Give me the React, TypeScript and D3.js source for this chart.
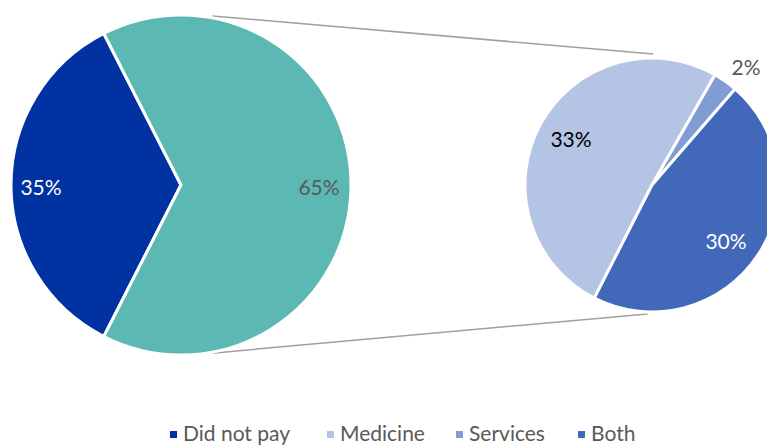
import React from "react";
import * as d3 from "d3";

const mainCategories = ["Did not pay", "Paid"];
const mainValues = [35, 65];
const mainColors = ["#0033A1", "#5CB8B2"];
const mainLabelColors = ["#FFFFFF", "#595959"];

const subCategories = ["Medicine", "Services", "Both"];
const subValues = [33, 2, 30];
const subColors = ["#B4C4E4", "#809CD3", "#4168B9"];
const subLabelColors = ["#000000", "#595959", "#FFFFFF"];

const legendCategories = ["Did not pay", "Medicine", "Services", "Both"];
const legendColors = ["#0033A1", "#B4C4E4", "#809CD3", "#4168B9"];

const W = 767;
const H = 445;
const deg = Math.PI / 180;
const FONT = "Lato, 'Open Sans', sans-serif";

export default function App() {
  const lc = { x: 181, y: 185, r: 170 };
  const rc = { x: 652, y: 185, r: 127 };

  const leftPie = d3.pie<number>().sort(null).startAngle(207 * deg).endAngle(567 * deg)(mainValues);
  const rightPie = d3.pie<number>().sort(null).startAngle(-153 * deg).endAngle(207 * deg)(subValues);

  const arcL = d3.arc<d3.PieArcDatum<number>>().innerRadius(0).outerRadius(lc.r);
  const arcR = d3.arc<d3.PieArcDatum<number>>().innerRadius(0).outerRadius(rc.r);

  const pt = (c: { x: number; y: number }, r: number, a: number) => [
    c.x + r * Math.sin(a * deg),
    c.y - r * Math.cos(a * deg),
  ];

  const mainLabelPos = [
    [41, 186],
    [319, 186],
  ];
  const subLabelPos = [
    [571, 138],
    [746, 66],
    [726, 240],
  ];

  const t1 = pt(lc, lc.r + 2, 10.5);
  const t2 = pt(rc, rc.r + 4, 0.5);
  const b1 = pt(lc, lc.r + 1, 169.5);
  const b2 = pt(rc, rc.r + 2, 182);

  const legendX = [170, 327, 456, 578];

  return (
    <svg width={W} height={H} style={{ position: "absolute", left: 0, top: 0 }}>
      <rect width={W} height={H} fill="#fff" />
      <line x1={t1[0]} y1={t1[1]} x2={t2[0]} y2={t2[1]} stroke="#A0A0A0" strokeWidth={1.5} />
      <line x1={b1[0]} y1={b1[1]} x2={b2[0]} y2={b2[1]} stroke="#A0A0A0" strokeWidth={1.5} />
      <g transform={`translate(${lc.x},${lc.y})`}>
        {leftPie.map((d, i) => (
          <path key={i} d={arcL(d) || ""} fill={mainColors[i]} stroke="#fff" strokeWidth={3} strokeLinejoin="round" />
        ))}
      </g>
      <g transform={`translate(${rc.x},${rc.y})`}>
        {rightPie.map((d, i) => (
          <path key={i} d={arcR(d) || ""} fill={subColors[i]} stroke="#fff" strokeWidth={3} strokeLinejoin="round" />
        ))}
      </g>
      {mainValues.map((v, i) => (
        <text key={i} x={mainLabelPos[i][0]} y={mainLabelPos[i][1]} textAnchor="middle" dominantBaseline="central"
          fontFamily={FONT} fontSize={21} fill={mainLabelColors[i]}>{v}%</text>
      ))}
      {subValues.map((v, i) => (
        <text key={i} x={subLabelPos[i][0]} y={subLabelPos[i][1]} textAnchor="middle" dominantBaseline="central"
          fontFamily={FONT} fontSize={21} fill={subLabelColors[i]}>{v}%</text>
      ))}
      {legendCategories.map((c, i) => (
        <g key={c}>
          <rect x={legendX[i]} y={431} width={7} height={7} fill={legendColors[i]} />
          <text x={legendX[i] + 13} y={441} fontFamily={FONT} fontSize={21} fill="#595959">{c}</text>
        </g>
      ))}
    </svg>
  );
}
